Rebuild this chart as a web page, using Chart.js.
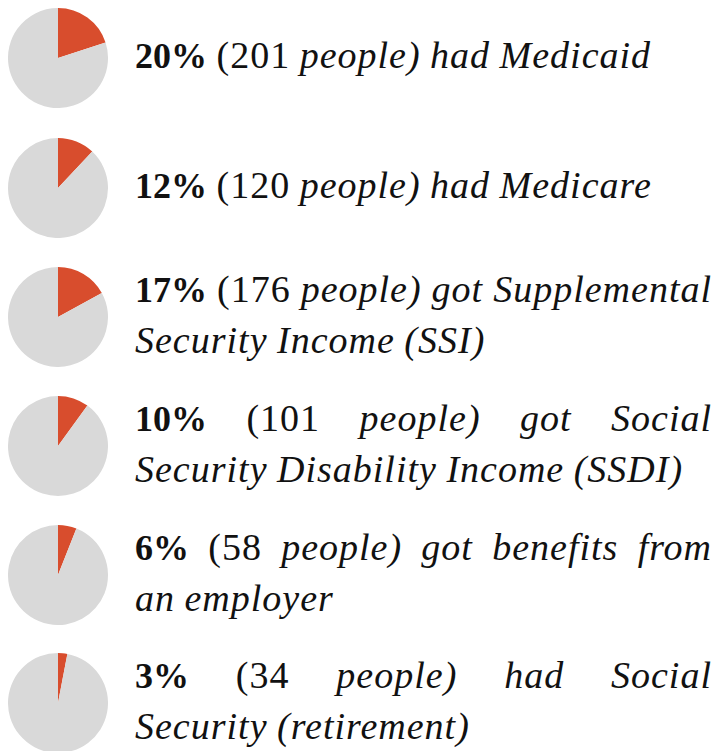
<!DOCTYPE html>
<html>
<head>
<meta charset="utf-8">
<script src="https://cdn.jsdelivr.net/npm/chart.js@4"></script>
<style>
  html, body { margin: 0; padding: 0; background: #fff; }
  body { width: 718px; height: 751px; position: relative; overflow: hidden; }
  .row { position: absolute; left: 0; width: 718px; height: 129px; }
  .pie { position: absolute; left: 8px; top: 14px; width: 100px; height: 100px; }
  .txt { position: absolute; left: 135px; width: 577px; top: 0; height: 129px;
         display: flex; align-items: center; }
  .txt .p { margin: 0; width: 100%; font-family: "Liberation Serif", serif; font-size: 38px;
           letter-spacing: 1px; word-spacing: -1px;
           line-height: 50px; color: #111; position: relative; top: -3px; }
  .txt .ln { text-align: left; }
  .txt .ln.just { text-align: justify; text-align-last: justify; }
  .txt b { font-weight: bold; font-style: normal; font-size: 36px; letter-spacing: 0; }
  .txt i { font-style: italic; }
</style>
</head>
<body>
<div id="root"></div>
<script>
const percents = [20, 12, 17, 10, 6, 3];
const people = [201, 120, 176, 101, 58, 34];
const descriptionLines = [
  ["had Medicaid"],
  ["had Medicare"],
  ["got Supplemental", "Security Income (SSI)"],
  ["got Social", "Security Disability Income (SSDI)"],
  ["got benefits from", "an employer"],
  ["had Social", "Security (retirement)"]
];
const sliceColors = ["#D84D2D", "#D9D9D9"];

const root = document.getElementById('root');
const rowCenters = [58, 188, 317, 446, 575, 703];

percents.forEach((p, i) => {
  const row = document.createElement('div');
  row.className = 'row';
  row.style.top = (rowCenters[i] - 64) + 'px';
  const cv = document.createElement('canvas');
  cv.className = 'pie';
  cv.width = 100; cv.height = 100;
  row.appendChild(cv);
  const t = document.createElement('div');
  t.className = 'txt';
  const para = document.createElement('div');
  para.className = 'p';
  const lines = descriptionLines[i];
  lines.forEach((ln, k) => {
    const d = document.createElement('div');
    d.className = 'ln' + (k === 0 && lines.length > 1 ? ' just' : '');
    if (k === 0) {
      d.innerHTML = '<b>' + p + '%</b> (' + people[i] + ' <i>people) ' + ln + '</i>';
    } else {
      d.innerHTML = '<i>' + ln + '</i>';
    }
    para.appendChild(d);
  });
  t.appendChild(para);
  row.appendChild(t);
  root.appendChild(row);

  new Chart(cv, {
    type: 'pie',
    data: {
      labels: ['Yes', 'No'],
      datasets: [{
        data: [p, 100 - p],
        backgroundColor: sliceColors,
        borderWidth: 0
      }]
    },
    options: {
      responsive: false,
      animation: false,
      layout: { padding: 0 },
      plugins: { legend: { display: false }, tooltip: { enabled: false } }
    }
  });
});
</script>
</body>
</html>
